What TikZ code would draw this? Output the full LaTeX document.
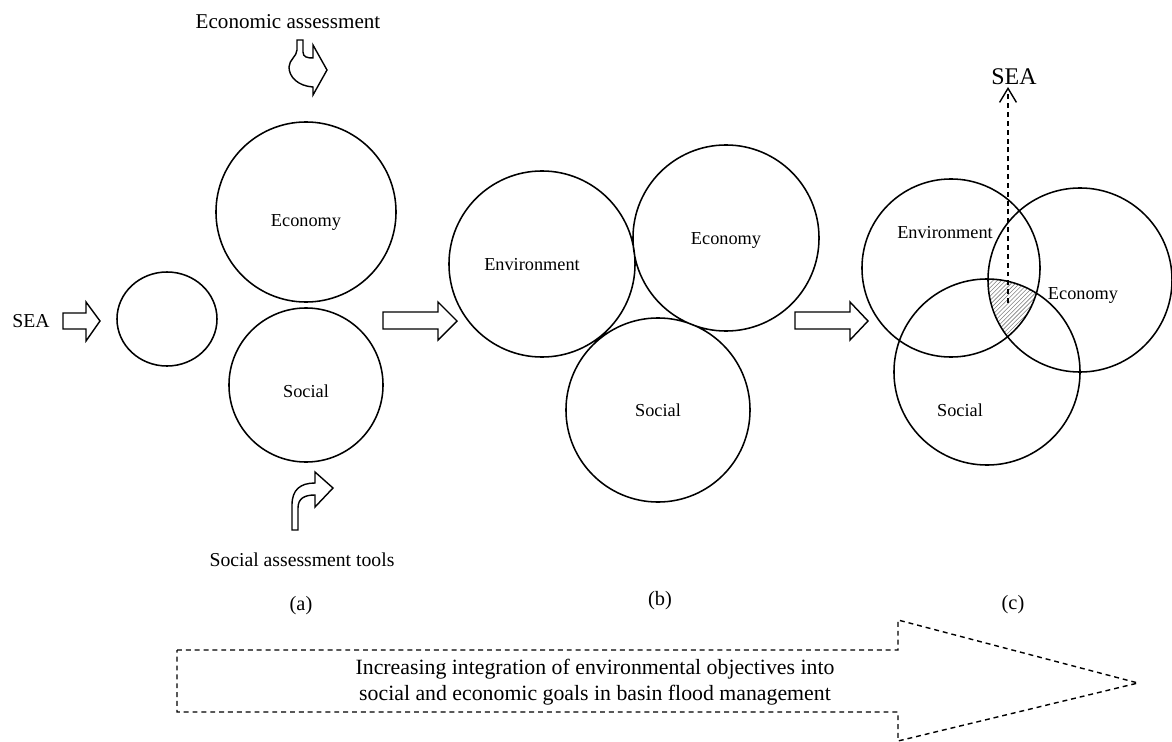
\documentclass[tikz,border=0pt]{standalone}
\usepackage{fontspec}
\setmainfont{Liberation Serif}
\usetikzlibrary{patterns,arrows.meta}

\begin{document}
\begin{tikzpicture}[x=0.025cm, y=-0.025cm,
    ring/.style={draw, line width=1.1pt},
    blockarrow/.style={draw, line width=1pt, line join=miter},
    dashline/.style={line width=1pt, dash pattern=on 3.5pt off 2.8pt},
    lbl/.style={font=\fontsize{13}{15}\selectfont},
    big/.style={font=\fontsize{14.5}{17}\selectfont}]
      \useasboundingbox (0,0) rectangle (1172,742);
      % (a)
      \draw[ring] (167,319) ellipse [x radius=1.25cm, y radius=1.175cm]
                  (306,212) circle [radius=2.25cm]
                  (306,385) circle [radius=1.925cm];
      \node (econa) [lbl] at (306,222) {Economy};
      \node (soca) [lbl] at (306,391) {Social};
      % (b)
      \draw[ring] (542,264) circle [radius=2.325cm]
                  (726,238) circle [radius=2.325cm]
                  (658,410) circle [radius=2.3cm];
      \node (envb) [lbl] at (532,265) {Environment};
      \node (econb) [lbl] at (726,240) {Economy};
      \node (socb) [lbl] at (658,410) {Social};
      % (c)
      \begin{scope}
            \clip (951,268) circle [radius=2.225cm];
            \clip (1080,280) circle [radius=2.3cm];
            \fill[pattern=north east lines, pattern color=gray] (987,372) circle [radius=2.325cm];
      \end{scope}
      \draw[ring] (951,268) circle [radius=2.225cm]
                  (1080,280) circle [radius=2.3cm]
                  (987,372) circle [radius=2.325cm];
      \node (envc) [lbl] at (945,233) {Environment};
      \node (econc) [lbl] at (1083,295) {Economy};
      \node (socc) [lbl] at (960,410) {Social};

      % block arrows
      \draw[blockarrow] (63,313) -- (86,313) -- (86,302) -- (100,321) -- (86,341) -- (86,329) -- (63,329) -- cycle
                        (383,312) -- (438,312) -- (438,302) -- (457,321) -- (438,340) -- (438,329) -- (383,329) -- cycle
                        (795,312) -- (850,312) -- (850,302) -- (868,321) -- (850,340) -- (850,329) -- (795,329) -- cycle;
      \draw[blockarrow] (297,40) -- (303,40) -- (303,52) .. controls (303,57) and (307,58) .. (313,58)
                        -- (313,45) -- (327,70) -- (313,95) -- (313,87)
                        .. controls (298,86) and (289,77) .. (289,67)
                        .. controls (289,60) and (297,56) .. (297,50) -- cycle;
      \draw[blockarrow] (292,530) -- (292,505) .. controls (292,490) and (300,483) .. (315,483)
                        -- (315,472) -- (333,488) -- (315,507) -- (315,495)
                        .. controls (305,495) and (298,498) .. (298,508) -- (298,530) -- cycle;

      \node (seaa) [font=\fontsize{14}{16}\selectfont] at (31,321) {SEA};
      \node (ecotool) [font=\fontsize{15}{17}\selectfont, anchor=base] at (288,29) {Economic assessment};
      \node (soctool) [font=\fontsize{14}{16}\selectfont] at (302,560) {Social assessment tools};
      \node (capa) [big] at (301,606) {(a)};
      \node (capb) [big] at (660,601) {(b)};
      \node (capc) [big] at (1013,605) {(c)};

      % SEA above the overlap
      \node (seac) [font=\fontsize{17}{19}\selectfont] at (1014,77) {SEA};
      \coordinate (overlap) at (1008,303);
      \coordinate (seatip) at (1008,87);
      \draw[dashline, -{Straight Barb[length=10pt, width=12pt, line width=1pt]}] (overlap) -- (seatip);

      % progress arrow
      \draw[dashline] (177,650) -- (898,650) -- (898,620) -- (1138,683) -- (898,741) -- (898,712) -- (177,712) -- cycle;
      \node (trend) [font=\fontsize{15.5}{18.5}\selectfont, align=center] at (595,682)
            {Increasing integration of environmental objectives into\\social and economic goals in basin flood management};
\end{tikzpicture}
\end{document}
